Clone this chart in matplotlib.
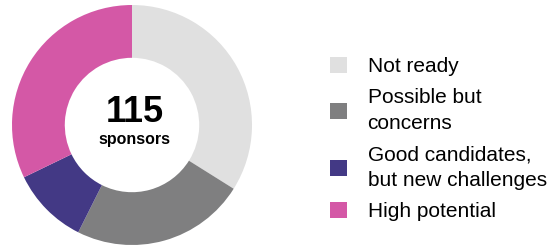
import matplotlib.pyplot as plt
from matplotlib.patches import Patch

plt.rcParams['font.family'] = ['Liberation Sans', 'DejaVu Sans']

categories = ['Not ready', 'Possible but\nconcerns', 'Good candidates,\nbut new challenges', 'High potential']
counts = [39, 27, 12, 37]
colors = ['#e0e0e0', '#7f7f80', '#433985', '#d458a6']
total_label = '115'
sub_label = 'sponsors'

W, H = 551, 246
fig = plt.figure(figsize=(W / 100, H / 100), dpi=100)

# donut, centre at (132, 125) px from top-left, radius 120 px
ax = fig.add_axes([12 / W, 1 / H, 240 / W, 240 / H])
ax.pie(counts, colors=colors, startangle=90, counterclock=False, radius=1,
       wedgeprops=dict(width=0.44, linewidth=0))
ax.set_xlim(-1, 1)
ax.set_ylim(-1, 1)
ax.set_aspect('equal')
ax.axis('off')

ax.text(0.02, 0.1, total_label, ha='center', va='center', fontsize=26, fontweight='bold')
ax.text(0.02, -0.12, sub_label, ha='center', va='center', fontsize=11.5, fontweight='bold')

handles = [Patch(facecolor=c, edgecolor='none') for c in colors]
leg = fig.legend(handles, categories, loc='center left', bbox_to_anchor=(330 / W, 0.435),
                 frameon=False, fontsize=15, handlelength=0.8, handleheight=0.8,
                 handletextpad=1.0, labelspacing=0.58, borderpad=0, borderaxespad=0)
for t in leg.get_texts():
    t.set_linespacing(1.45)

fig.savefig('out.png', dpi=100)
